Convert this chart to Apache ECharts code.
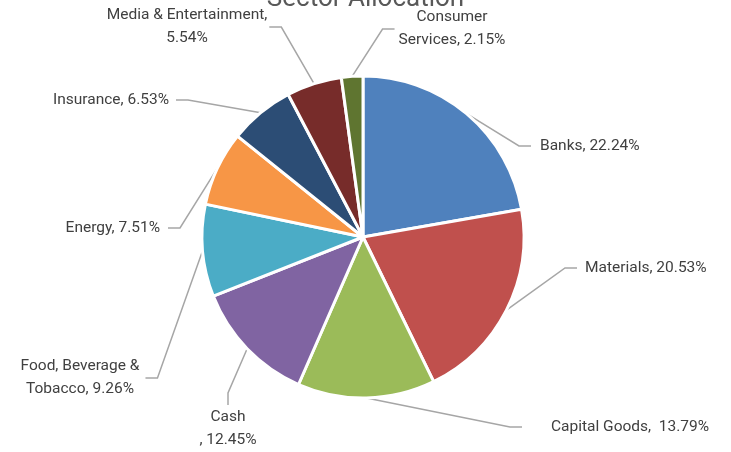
<!DOCTYPE html>
<html>
<head>
<meta charset="utf-8">
<script src="https://cdn.jsdelivr.net/npm/echarts@6/dist/echarts.min.js"></script>
<style>
html,body{margin:0;padding:0;background:#fff;}
#chart{width:731px;height:452px;}
</style>
</head>
<body>
<div id="chart"></div>
<script>
const categories = ['Banks', 'Materials', 'Capital Goods', 'Cash', 'Food, Beverage & Tobacco', 'Energy', 'Insurance', 'Media & Entertainment', 'Consumer Services'];
const values = [22.24, 20.53, 13.79, 12.45, 9.26, 7.51, 6.53, 5.54, 2.15];
const labelPrefixes = ['Banks, ', 'Materials, ', 'Capital Goods,  ', 'Cash\n, ', 'Food, Beverage &\nTobacco, ', 'Energy, ', 'Insurance, ', 'Media & Entertainment,\n', 'Consumer\nServices, '];
const colors = ['#4F81BD', '#C0504D', '#9BBB59', '#8064A2', '#4BACC6', '#F79646', '#2C4D75', '#772C2A', '#5F7530'];

// label placement (anchor x, y, alignment, padding)
const labelPlacement = [
  {x: 531, y: 146, align: 'left', pad: [2, 9]},
  {x: 577, y: 268, align: 'left', pad: [2, 8]},
  {x: 522, y: 427, align: 'left', pad: [2, 29]},
  {x: 228, y: 429, align: 'center', pad: [1, 8]},
  {x: 80, y: 378, align: 'center', pad: [2, 6]},
  {x: 168, y: 228, align: 'right', pad: [2, 8]},
  {x: 176, y: 100, align: 'right', pad: [2, 7]},
  {x: 187, y: 27, align: 'center', pad: [2, 2]},
  {x: 452, y: 29, align: 'center', pad: [2, 4]}
];

const FONT = "Roboto, 'Liberation Sans', sans-serif";

const chart = echarts.init(document.getElementById('chart'), null, {renderer: 'canvas'});
chart.setOption({
  animation: false,
  backgroundColor: '#ffffff',
  title: {
    text: 'Sector Allocation',
    left: 'center',
    top: -19,
    textStyle: {fontFamily: FONT, fontSize: 26, fontWeight: 'normal', color: '#595959'}
  },
  series: [{
    type: 'pie',
    center: [363, 237],
    radius: 161,
    startAngle: 90,
    clockwise: true,
    itemStyle: {borderColor: '#ffffff', borderWidth: 3},
    label: {
      show: true,
      fontFamily: FONT,
      fontSize: 15.5,
      color: '#404040',
      lineHeight: 23,
      formatter: p => labelPrefixes[p.dataIndex] + p.value.toFixed(2) + '%'
    },
    labelLine: {show: true, length: 20, length2: 12, lineStyle: {color: '#A6A6A6', width: 1.5}},
    labelLayout: function (p) {
      const pl = labelPlacement[p.dataIndex];
      return {x: pl.x, y: pl.y, align: pl.align, verticalAlign: 'middle'};
    },
    data: categories.map((c, i) => ({
      name: c,
      value: values[i],
      itemStyle: {color: colors[i]},
      label: {padding: labelPlacement[i].pad}
    }))
  }]
});
</script>
</body>
</html>
